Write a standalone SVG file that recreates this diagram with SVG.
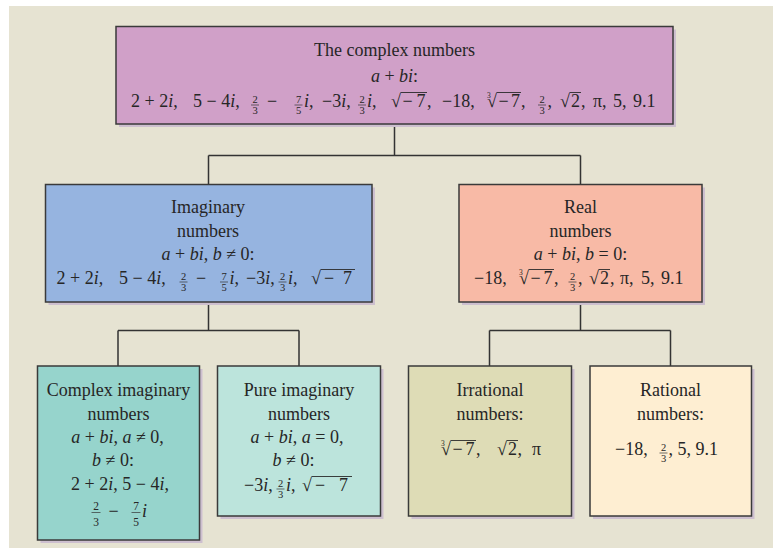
<svg xmlns="http://www.w3.org/2000/svg" width="773" height="548" viewBox="0 0 773 548">
<style>
.t{font-family:"Liberation Serif","Times New Roman",serif;font-size:18px;fill:#262626}
.c{text-anchor:middle}
.i{font-style:italic}
.s{font-size:10.5px}
.m{font-size:11.5px}
.r3{font-size:7.5px}
.bar{stroke:#333;stroke-width:0.7}
.ov{stroke:#2a2a2a;stroke-width:0.9}
.box{stroke:#3a3a3a;stroke-width:1.5}
.sh{fill:#cdbfcf}
.ln{stroke:#333;stroke-width:1.5;fill:none}
</style>
<rect x="0" y="0" width="773" height="548" fill="#ffffff"/>
<rect x="9" y="6" width="764" height="542" fill="#e6e3d2"/>

<g id="connectors">
<path class="ln" d="M394.5,124 V155.5 M208.5,155.5 H580.5 M208.5,155.5 V184.5 M580.5,155.5 V184.5"/>
<path class="ln" d="M208.5,302 V330.5 M118,330.5 H299 M118,330.5 V366 M299,330.5 V366"/>
<path class="ln" d="M580.5,302 V330.5 M489.5,330.5 H670.5 M489.5,330.5 V366 M670.5,330.5 V366"/>
</g>

<g id="complex">
<rect class="sh" x="119" y="29.5" width="557" height="97.5"/>
<rect class="box" x="116" y="26.5" width="557" height="97.5" fill="#d0a0c8"/>
<text class="t c" x="394.5" y="56">The complex numbers</text>
<text class="t c" x="394.5" y="81.5"><tspan class="i">a</tspan> + <tspan class="i">bi</tspan>:</text>
<text class="t" x="131" y="107">2 + 2<tspan class="i">i</tspan>,</text>
<text class="t" x="193" y="107">5 − 4<tspan class="i">i</tspan>,</text>
<text class="t s c" x="255" y="103">2</text><line class="bar" x1="251" y1="105" x2="259" y2="105"/><text class="t s c" x="255" y="113.5">3</text>
<text class="t" x="267" y="107">−</text>
<text class="t s c" x="298.5" y="103">7</text><line class="bar" x1="294.5" y1="105" x2="302.5" y2="105"/><text class="t s c" x="298.5" y="113.5">5</text>
<text class="t" x="304" y="107"><tspan class="i">i</tspan>,</text>
<text class="t" x="322" y="107">−3<tspan class="i">i</tspan>,</text>
<text class="t s c" x="362" y="103">2</text><line class="bar" x1="358" y1="105" x2="366" y2="105"/><text class="t s c" x="362" y="113.5">3</text>
<text class="t" x="367" y="107"><tspan class="i">i</tspan>,</text>
<text class="t" x="391" y="107">√</text><line class="ov" x1="400.5" y1="92.5" x2="427" y2="92.5"/><text class="t" x="402.5" y="107" textLength="23" lengthAdjust="spacing">−7</text><text class="t" x="427" y="107">,</text>
<text class="t" x="442" y="107">−18,</text>
<text class="t" x="487" y="107">√</text><text class="t r3" x="487" y="97.5">3</text><line class="ov" x1="496.5" y1="92.5" x2="521" y2="92.5"/><text class="t" x="498.5" y="107" textLength="21.5" lengthAdjust="spacing">−7</text><text class="t" x="521" y="107">,</text>
<text class="t s c" x="542" y="103">2</text><line class="bar" x1="538" y1="105" x2="546" y2="105"/><text class="t s c" x="542" y="113.5">3</text>
<text class="t" x="547.5" y="107">,</text>
<text class="t" x="560" y="107">√</text><line class="ov" x1="569.5" y1="92.5" x2="581" y2="92.5"/><text class="t" x="571" y="107">2</text><text class="t" x="581" y="107">,</text>
<text class="t" x="593" y="107">π,</text>
<text class="t" x="613" y="107">5,</text>
<text class="t" x="633" y="107">9.1</text>
</g>

<g id="imaginary">
<rect class="sh" x="48.5" y="187.5" width="326.5" height="117.5"/>
<rect class="box" x="45.5" y="184.5" width="326.5" height="117.5" fill="#96b4e0"/>
<text class="t c" x="208" y="213">Imaginary</text>
<text class="t c" x="208" y="237">numbers</text>
<text class="t c" x="208" y="260"><tspan class="i">a</tspan> + <tspan class="i">bi</tspan>, <tspan class="i">b</tspan> ≠ 0:</text>
<text class="t" x="56.5" y="284">2 + 2<tspan class="i">i</tspan>,</text>
<text class="t" x="119" y="284">5 − 4<tspan class="i">i</tspan>,</text>
<text class="t s c" x="183.5" y="280">2</text><line class="bar" x1="179.5" y1="282" x2="187.5" y2="282"/><text class="t s c" x="183.5" y="290.5">3</text>
<text class="t" x="196" y="284">−</text>
<text class="t s c" x="224" y="280">7</text><line class="bar" x1="220" y1="282" x2="228" y2="282"/><text class="t s c" x="224" y="290.5">5</text>
<text class="t" x="229.5" y="284"><tspan class="i">i</tspan>,</text>
<text class="t" x="246" y="284">−3<tspan class="i">i</tspan>,</text>
<text class="t s c" x="282.5" y="280">2</text><line class="bar" x1="278.5" y1="282" x2="286.5" y2="282"/><text class="t s c" x="282.5" y="290.5">3</text>
<text class="t" x="288" y="284"><tspan class="i">i</tspan>,</text>
<text class="t" x="311" y="284">√</text><line class="ov" x1="320.5" y1="269.5" x2="355" y2="269.5"/><text class="t" x="324" y="284" textLength="28" lengthAdjust="spacing">−7</text>
</g>

<g id="real">
<rect class="sh" x="462" y="187.5" width="243" height="117.5"/>
<rect class="box" x="459" y="184.5" width="243" height="117.5" fill="#f8baa6"/>
<text class="t c" x="580.5" y="213">Real</text>
<text class="t c" x="580.5" y="237">numbers</text>
<text class="t c" x="580.5" y="260"><tspan class="i">a</tspan> + <tspan class="i">bi</tspan>, <tspan class="i">b</tspan> = 0:</text>
<text class="t" x="474" y="284">−18,</text>
<text class="t" x="519" y="284">√</text><text class="t r3" x="519" y="274.5">3</text><line class="ov" x1="528.5" y1="269.5" x2="554" y2="269.5"/><text class="t" x="530.5" y="284" textLength="22" lengthAdjust="spacing">−7</text><text class="t" x="554" y="284">,</text>
<text class="t s c" x="572.5" y="280">2</text><line class="bar" x1="568.5" y1="282" x2="576.5" y2="282"/><text class="t s c" x="572.5" y="290.5">3</text>
<text class="t" x="578" y="284">,</text>
<text class="t" x="589" y="284">√</text><line class="ov" x1="598.5" y1="269.5" x2="610" y2="269.5"/><text class="t" x="600" y="284">2</text><text class="t" x="610" y="284">,</text>
<text class="t" x="620" y="284">π,</text>
<text class="t" x="641" y="284">5,</text>
<text class="t" x="661" y="284">9.1</text>
</g>

<g id="complex-imaginary">
<rect class="sh" x="40.5" y="369" width="162" height="174"/>
<rect class="box" x="37.5" y="366" width="162" height="174" fill="#96d4cc"/>
<text class="t c" x="118.5" y="396">Complex imaginary</text>
<text class="t c" x="118.5" y="419.5">numbers</text>
<text class="t c" x="117.5" y="443"><tspan class="i">a</tspan> + <tspan class="i">bi</tspan>, <tspan class="i">a</tspan> ≠ 0,</text>
<text class="t c" x="113" y="466"><tspan class="i">b</tspan> ≠ 0:</text>
<text class="t c" x="120" y="489.5">2 + 2<tspan class="i">i</tspan>, 5 − 4<tspan class="i">i</tspan>,</text>
<text class="t m c" x="96" y="509.5">2</text><line class="bar" x1="91.5" y1="512.5" x2="100.5" y2="512.5"/><text class="t m c" x="96" y="525.5">3</text>
<text class="t" x="108.5" y="516.5">−</text>
<text class="t m c" x="136" y="509.5">7</text><line class="bar" x1="131.5" y1="512.5" x2="140.5" y2="512.5"/><text class="t m c" x="136" y="525.5">5</text>
<text class="t i" x="142" y="516.5">i</text>
</g>

<g id="pure-imaginary">
<rect class="sh" x="220.5" y="369" width="163" height="150"/>
<rect class="box" x="217.5" y="366" width="163" height="150" fill="#bce4dc"/>
<text class="t c" x="299" y="396">Pure imaginary</text>
<text class="t c" x="299" y="419.5">numbers</text>
<text class="t c" x="297" y="443"><tspan class="i">a</tspan> + <tspan class="i">bi</tspan>, <tspan class="i">a</tspan> = 0,</text>
<text class="t c" x="293.5" y="466"><tspan class="i">b</tspan> ≠ 0:</text>
<text class="t" x="244" y="491">−3<tspan class="i">i</tspan>,</text>
<text class="t s c" x="280.5" y="487">2</text><line class="bar" x1="276.5" y1="489" x2="284.5" y2="489"/><text class="t s c" x="280.5" y="497.5">3</text>
<text class="t" x="286" y="491"><tspan class="i">i</tspan>,</text>
<text class="t" x="302" y="491">√</text><line class="ov" x1="311.5" y1="476.5" x2="352" y2="476.5"/><text class="t" x="315" y="491" textLength="33" lengthAdjust="spacing">−7</text>
</g>

<g id="irrational">
<rect class="sh" x="411.5" y="369" width="163" height="150"/>
<rect class="box" x="408.5" y="366" width="163" height="150" fill="#dedcb6"/>
<text class="t c" x="490" y="396">Irrational</text>
<text class="t c" x="490" y="420">numbers:</text>
<text class="t" x="441" y="455">√</text><text class="t r3" x="441" y="445.5">3</text><line class="ov" x1="450.5" y1="440.5" x2="476" y2="440.5"/><text class="t" x="452.5" y="455" textLength="22" lengthAdjust="spacing">−7</text><text class="t" x="476" y="455">,</text>
<text class="t" x="497" y="455">√</text><line class="ov" x1="506.5" y1="440.5" x2="518" y2="440.5"/><text class="t" x="508" y="455">2</text><text class="t" x="517.5" y="455">,</text>
<text class="t" x="532" y="455">π</text>
</g>

<g id="rational">
<rect class="sh" x="593" y="369" width="161.5" height="150"/>
<rect class="box" x="590" y="366" width="161.5" height="150" fill="#feeed2"/>
<text class="t c" x="670.5" y="396">Rational</text>
<text class="t c" x="670.5" y="420">numbers:</text>
<text class="t" x="615" y="455">−18,</text>
<text class="t s c" x="663.5" y="451">2</text><line class="bar" x1="659.5" y1="453" x2="667.5" y2="453"/><text class="t s c" x="663.5" y="461.5">3</text>
<text class="t" x="668.5" y="455">, 5, 9.1</text>
</g>
</svg>
